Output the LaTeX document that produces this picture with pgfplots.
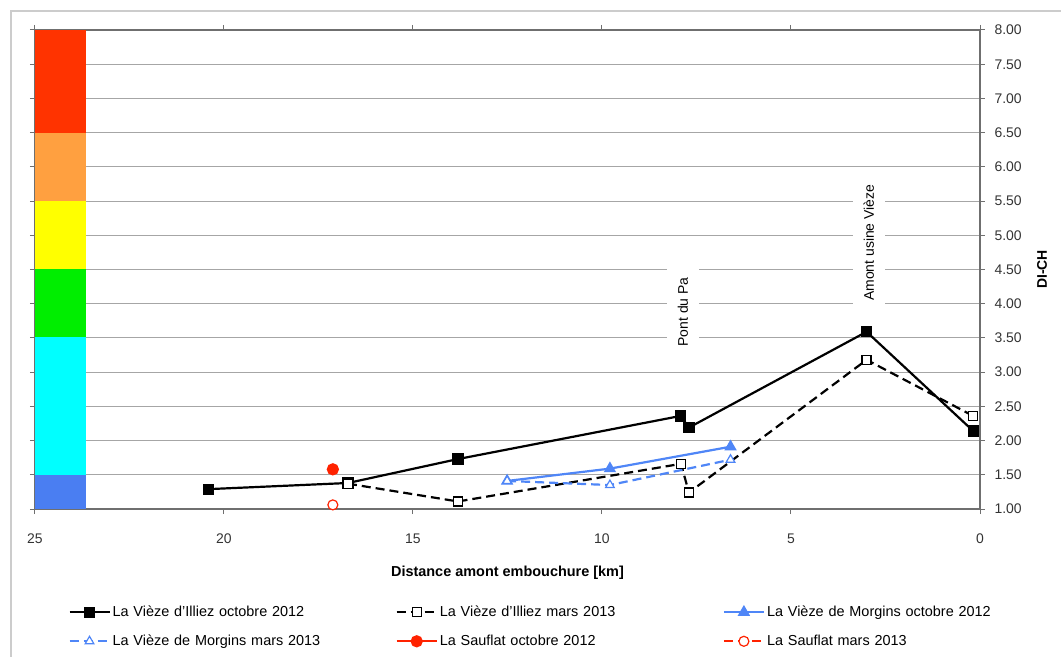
\documentclass[border=0pt]{standalone}
\usepackage{pgfplots}
\pgfplotsset{compat=1.18}
\usepackage{fontspec}
\setmainfont{Liberation Sans}
\definecolor{cRed}{HTML}{FF3300}
\definecolor{cOrange}{HTML}{FFA040}
\definecolor{cYellow}{HTML}{FFFF00}
\definecolor{cGreen}{HTML}{00EE00}
\definecolor{cCyan}{HTML}{00FFFF}
\definecolor{cBlue}{HTML}{4A7EF2}
\definecolor{lineBlue}{HTML}{4F86F7}
\definecolor{ptRed}{HTML}{FF2200}
\definecolor{gridgray}{HTML}{A6A6A6}
\definecolor{axisgray}{HTML}{6F6F6F}
\begin{document}
\begin{tikzpicture}
\useasboundingbox (0,0) rectangle (1061bp,657bp);
\draw[black!20, line width=2.5bp] (11bp,-20bp) -- (11bp,646bp) -- (1080bp,646bp);
\begin{axis}[
  at={(35bp,148bp)}, anchor=south west,
  scale only axis, width=945bp, height=479bp,
  x dir=reverse, xmin=0, xmax=25, ymin=1, ymax=8,
  xtick={0,5,10,15,20,25}, ytick={1,1.5,...,8},
  yticklabel pos=right,
  ymajorgrids, grid style={gridgray, line width=1bp},
  axis line style={axisgray, line width=1.2bp},
  tick style={axisgray, line width=1bp},
  tick align=outside, major tick length=5bp,
  xticklabel style={font=\fontsize{14}{16}\selectfont, text=black!80, yshift=-16bp},
  yticklabel style={font=\fontsize{14}{16}\selectfont, text=black!80, xshift=6bp},
  /pgf/number format/assume math mode=true,
  yticklabel={\pgfmathprintnumber[fixed,fixed zerofill,precision=2]{\tick}},
  xlabel={Distance amont embouchure [km]},
  ylabel={DI-CH},
  xlabel style={font=\bfseries\fontsize{14.5}{16}\selectfont, at={(axis description cs:0.5,-0.133)}, anchor=center},
  ylabel style={font=\bfseries\fontsize{14}{16}\selectfont, at={(axis description cs:1.0656,0.5)}, anchor=center},
  legend image code/.code={\draw[mark repeat=2,mark phase=2,#1] plot coordinates {(0bp,0bp)(20bp,0bp)(40bp,0bp)};},
  legend columns=3, legend cell align=left,
  legend style={at={(0.032,-0.194)}, anchor=north west, draw=none, fill=none,
    font=\fontsize{14.5}{17}\selectfont, column sep=0bp, row sep=13bp,
    nodes={text width=281bp, align=left, inner xsep=2bp}},
]
\fill[cRed] (axis cs:25,6.5) rectangle (axis cs:23.65,8);
\fill[cOrange] (axis cs:25,5.5) rectangle (axis cs:23.65,6.5);
\fill[cYellow] (axis cs:25,4.5) rectangle (axis cs:23.65,5.5);
\fill[cGreen] (axis cs:25,3.52) rectangle (axis cs:23.65,4.5);
\fill[cCyan] (axis cs:25,1.5) rectangle (axis cs:23.65,3.52);
\fill[cBlue] (axis cs:25,1) rectangle (axis cs:23.65,1.5);
\node[rotate=90, fill=white, inner xsep=14bp, inner ysep=11bp, font=\fontsize{14}{16}\selectfont] at (axis cs:7.86,3.88) {Pont du Pa};
\node[rotate=90, fill=white, inner xsep=14bp, inner ysep=11bp, font=\fontsize{14}{16}\selectfont] at (axis cs:2.94,4.89) {Amont usine Vièze};

\addplot[black, line width=2.2bp, mark=square*, mark size=4.5bp, mark options={solid, fill=black}]
  coordinates {(20.42,1.29)(16.72,1.38)(13.81,1.73)(7.92,2.36)(7.70,2.19)(3.00,3.59)(0.18,2.14)};
\addlegendentry{La Vièze d'Illiez octobre 2012}
\addplot[black, line width=2.2bp, dash pattern=on 9bp off 5bp, mark=square*, mark size=4.5bp, mark options={solid, fill=white, line width=1.2bp}]
  coordinates {(16.72,1.37)(13.81,1.11)(7.91,1.66)(7.70,1.24)(3.00,3.18)(0.18,2.36)};
\addlegendentry{La Vièze d'Illiez mars 2013}
\addplot[lineBlue, line width=2.2bp, mark=triangle*, mark size=5bp, mark options={solid, fill=lineBlue}]
  coordinates {(12.51,1.41)(9.79,1.59)(6.60,1.91)};
\addlegendentry{La Vièze de Morgins octobre 2012}
\addplot[lineBlue, line width=2.2bp, dash pattern=on 9bp off 5bp, mark=triangle*, mark size=5bp, mark options={solid, fill=white, line width=1.2bp}]
  coordinates {(12.51,1.41)(9.79,1.35)(6.60,1.72)};
\addlegendentry{La Vièze de Morgins mars 2013}
\addplot[ptRed, line width=2.2bp, mark=*, mark size=5bp, mark options={solid, fill=ptRed}]
  coordinates {(17.12,1.58)};
\addlegendentry{La Sauflat octobre 2012}
\addplot[ptRed, line width=2.2bp, dash pattern=on 9bp off 5bp, mark=*, mark size=5bp, mark options={solid, fill=white, line width=1.2bp}]
  coordinates {(17.12,1.06)};
\addlegendentry{La Sauflat mars 2013}
\end{axis}
\end{tikzpicture}
\end{document}
